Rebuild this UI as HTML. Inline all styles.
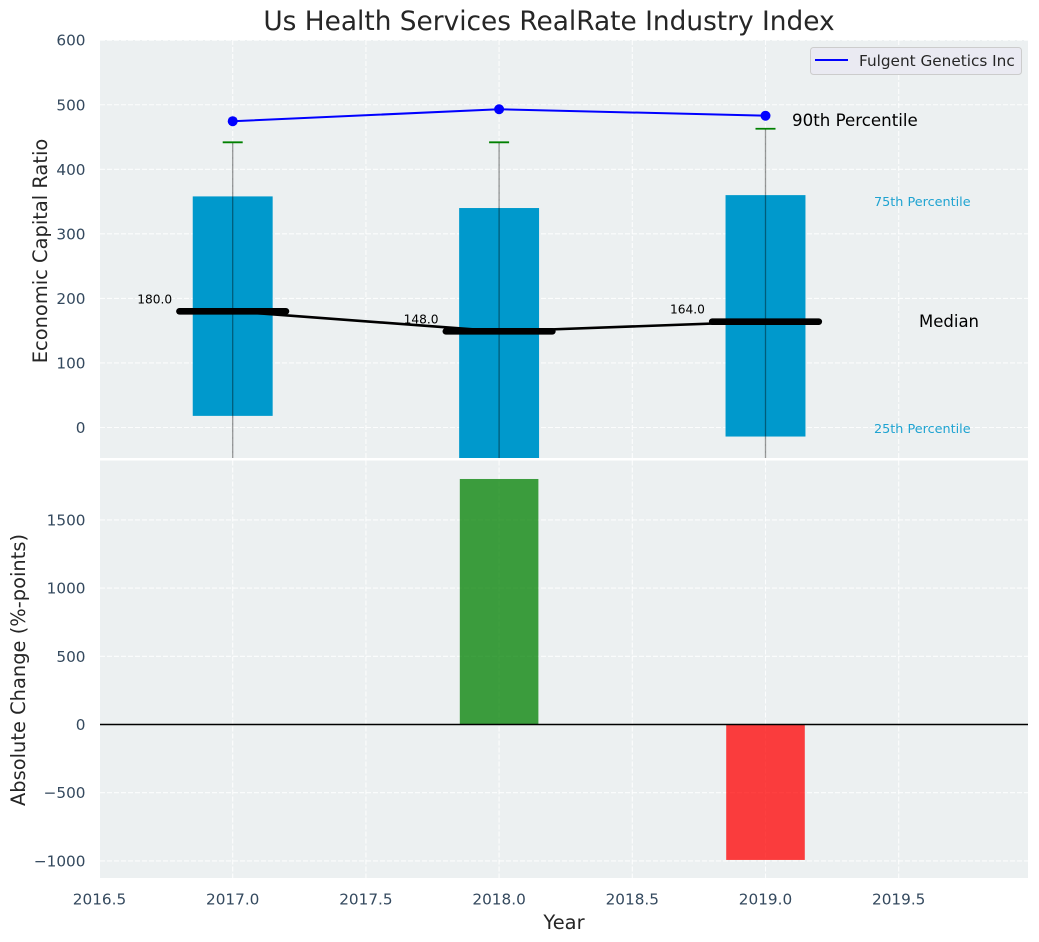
<!DOCTYPE html>
<html lang="en">
<head>
<meta charset="utf-8">
<title>Us Health Services RealRate Industry Index</title>
<style>
html,body{margin:0;padding:0;background:#fff;}
svg{display:block;}
text{font-family:"DejaVu Sans","Liberation Sans",sans-serif;}
</style>
</head>
<body>
<svg id="chart" xmlns="http://www.w3.org/2000/svg" width="1039" height="942" viewBox="0 0 1039 942">
  <defs>
    <clipPath id="clip-top"><rect x="100" y="40" width="928" height="418"/></clipPath>
    <clipPath id="clip-bottom"><rect x="100" y="460.5" width="928" height="417.5"/></clipPath>
  </defs>
  <rect x="100" y="40" width="928" height="418" fill="#ecf0f1"/>
  <rect x="100" y="460.5" width="928" height="417.5" fill="#ecf0f1"/>
  <g id="grid-top" clip-path="url(#clip-top)"></g>
  <g id="grid-bottom" clip-path="url(#clip-bottom)"></g>
  <g id="marks-top" clip-path="url(#clip-top)"></g>
  <g id="marks-bottom" clip-path="url(#clip-bottom)"></g>
  <g id="ticks"></g>
  <text x="549" y="30" text-anchor="middle" font-size="26.39" fill="#262626">Us Health Services RealRate Industry Index</text>
  <text transform="translate(47 251) rotate(-90)" text-anchor="middle" font-size="19.44" fill="#262626">Economic Capital Ratio</text>
  <text transform="translate(25 670) rotate(-90)" text-anchor="middle" font-size="19.44" fill="#262626">Absolute Change (%-points)</text>
  <text x="564" y="929" text-anchor="middle" font-size="19.44" fill="#262626">Year</text>
  <text x="792" y="126" font-size="16.67" fill="#000">90th Percentile</text>
  <text x="874" y="206" font-size="12.8" fill="#1fa3d1">75th Percentile</text>
  <text x="919" y="327" font-size="16.5" fill="#000">Median</text>
  <text x="874" y="433" font-size="12.8" fill="#1fa3d1">25th Percentile</text>
  <g>
    <rect x="810.5" y="47.5" width="211" height="27" rx="3" fill="#eaeaf2" stroke="#cccccc" stroke-width="1"/>
    <line x1="815" y1="60" x2="848" y2="60" stroke="#0000ff" stroke-width="2"/>
    <text x="859" y="66" font-size="15.28" fill="#262626">Fulgent Genetics Inc</text>
  </g>
</svg>
<script>
const years = [2017, 2018, 2019];
const p90 = [441, 441, 462];
const p75 = [358, 340, 360];
const medians = [180, 149, 164];
const p25 = [18, -60, -14];
const whiskerLow = [-120, -130, -110];
const company = [474.5, 493, 483];
const medianLabels = ["180.0", "148.0", "164.0"];
const changes = [null, 1800, -993];
const xTicks = [2016.5, 2017, 2017.5, 2018, 2018.5, 2019, 2019.5];
const xTickLabels = ["2016.5", "2017.0", "2017.5", "2018.0", "2018.5", "2019.0", "2019.5"];
const yTopTicks = [0, 100, 200, 300, 400, 500, 600];
const yTopLabels = ["0", "100", "200", "300", "400", "500", "600"];
const yBottomTicks = [-1000, -500, 0, 500, 1000, 1500];
const yBottomLabels = ["\u22121000", "\u2212500", "0", "500", "1000", "1500"];

const SVG_NS = "http://www.w3.org/2000/svg";
function xScale(v) { return 232.7 + (v - 2017) * 266.4; }
function yTop(v) { return 427.5 - v * 0.6455; }
function yBottom(v) { return 724.5 - v * 0.1364; }
function make(tag, parent, attrs) {
  const el = document.createElementNS(SVG_NS, tag);
  for (const k in attrs) el.setAttribute(k, attrs[k]);
  parent.appendChild(el);
  return el;
}
const gridTop = document.getElementById("grid-top");
const gridBottom = document.getElementById("grid-bottom");
const marksTop = document.getElementById("marks-top");
const marksBottom = document.getElementById("marks-bottom");
const ticks = document.getElementById("ticks");
const gridStyle = { stroke: "#ffffff", "stroke-width": 1.1, "stroke-dasharray": "5 2", "stroke-opacity": 0.85 };

xTicks.forEach(function (t, i) {
  const x = xScale(t);
  const a = make("line", gridTop, Object.assign({ x1: x, x2: x, y1: 40, y2: 458 }, gridStyle));
  
  
  const b = make("line", gridBottom, Object.assign({ x1: x, x2: x, y1: 460.5, y2: 878 }, gridStyle));
  
  
  const lab = make("text", ticks, { x: x, y: 904.5, "text-anchor": "middle", "font-size": 15.28, fill: "#34495e" });
  lab.textContent = xTickLabels[i];
  
  
});
yTopTicks.forEach(function (t, i) {
  const y = yTop(t);
  const g = make("line", gridTop, Object.assign({ x1: 100, x2: 1028, y1: y, y2: y }, gridStyle));
  
  
  const lab = make("text", ticks, { x: 85.5, y: y + 5.5, "text-anchor": "end", "font-size": 15.28, fill: "#34495e" });
  lab.textContent = yTopLabels[i];
  
  
});
yBottomTicks.forEach(function (t, i) {
  const y = yBottom(t);
  const g = make("line", gridBottom, Object.assign({ x1: 100, x2: 1028, y1: y, y2: y }, gridStyle));
  
  
  const lab = make("text", ticks, { x: 85.5, y: y + 5.5, "text-anchor": "end", "font-size": 15.28, fill: "#34495e" });
  lab.textContent = yBottomLabels[i];
  
  
});

const BOX_W = 0.3;
const MED_W = 0.2;
const BAR_W = 0.295;

years.forEach(function (yr, i) {
  const box = make("rect", marksTop, {
    x: xScale(yr - BOX_W / 2), width: xScale(yr + BOX_W / 2) - xScale(yr - BOX_W / 2),
    y: yTop(p75[i]), height: yTop(p25[i]) - yTop(p75[i]), fill: "#0099cc"
  });
  
  
});

const medianPath = make("polyline", marksTop, {
  points: years.map(function (yr, i) { return xScale(yr) + "," + yTop(medians[i]); }).join(" "),
  fill: "none", stroke: "#000", "stroke-width": 2.6
});



years.forEach(function (yr, i) {
  const w = make("line", marksTop, {
    x1: xScale(yr), x2: xScale(yr), y1: yTop(p90[i]), y2: yTop(whiskerLow[i]),
    stroke: "#000", "stroke-opacity": 0.4, "stroke-width": 1.3
  });
  
  
  const cap = make("line", marksTop, {
    x1: xScale(yr) - 10, x2: xScale(yr) + 10, y1: yTop(p90[i]) - 0.5, y2: yTop(p90[i]) - 0.5,
    stroke: "#008000", "stroke-width": 1.8
  });
  
  
  const m = make("line", marksTop, {
    x1: xScale(yr - MED_W), x2: xScale(yr + MED_W), y1: yTop(medians[i]), y2: yTop(medians[i]),
    stroke: "#000", "stroke-width": 6.6, "stroke-linecap": "round"
  });
  
  
  const lab = make("text", marksTop, {
    x: xScale(yr - 0.293), y: yTop(medians[i]) - 8, "text-anchor": "middle", "font-size": 12.2, fill: "#000"
  });
  lab.textContent = medianLabels[i];
  
  
});

const companyLine = make("polyline", marksTop, {
  points: years.map(function (yr, i) { return xScale(yr) + "," + yTop(company[i]); }).join(" "),
  fill: "none", stroke: "#0000ff", "stroke-width": 2
});


years.forEach(function (yr, i) {
  const c = make("circle", marksTop, { cx: xScale(yr), cy: yTop(company[i]), r: 5, fill: "#0000ff" });
  
  
});

years.forEach(function (yr, i) {
  const v = changes[i];
  if (v === null) return;
  const top = Math.min(yBottom(v), yBottom(0));
  const h = Math.abs(yBottom(v) - yBottom(0));
  const bar = make("rect", marksBottom, {
    x: xScale(yr - BAR_W / 2), width: xScale(yr + BAR_W / 2) - xScale(yr - BAR_W / 2),
    y: top, height: h, fill: v >= 0 ? "#008000" : "#ff0000", "fill-opacity": 0.75
  });
  
  
});
const zeroLine = make("line", marksBottom, {
  x1: 100, x2: 1028, y1: yBottom(0), y2: yBottom(0), stroke: "#000", "stroke-width": 1.4
});


</script>
</body>
</html>
